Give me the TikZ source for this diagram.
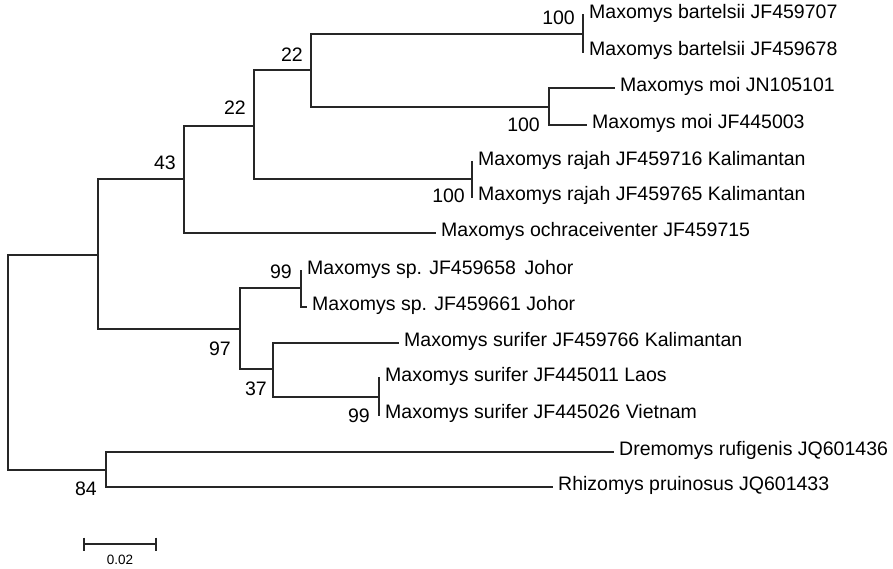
\documentclass[tikz,border=0pt]{standalone}
\usepackage{fontspec}
\setmainfont{Liberation Sans}
\begin{document}
\begin{tikzpicture}[x=1pt,y=-1pt,
  branch/.style={draw=black!85, line width=2.2pt, line cap=rect},
  leaf/.style={anchor=west, inner xsep=6pt, inner ysep=0pt, text height=0.72em, text depth=0pt, font=\fontsize{19.5}{22}\selectfont},
  boot/.style={anchor=base east, inner sep=0pt, font=\fontsize{19.5}{22}\selectfont},
  scalelbl/.style={inner sep=0pt, font=\fontsize{13.5}{15}\selectfont}]
\useasboundingbox (0,0) rectangle (893,569);
% internal nodes
\coordinate (root) at (8,362.5);
\coordinate (nIn)  at (98,255);
\coordinate (n43)  at (184,179);
\coordinate (n22a) at (254,125.7);
\coordinate (n22b) at (311,70.3);
\coordinate (nBart) at (583,33.7);
\coordinate (nMoi) at (549,106.7);
\coordinate (nRaj) at (472,179);
\coordinate (n97)  at (240,329);
\coordinate (nSp)  at (301,288);
\coordinate (n37)  at (273,369);
\coordinate (nLV)  at (379,397);
\coordinate (n84)  at (106,470);
% leaves
\node[leaf] (b1) at (583,15)  {Maxomys bartelsii JF459707};
\node[leaf] (b2) at (583,52)  {Maxomys bartelsii JF459678};
\node[leaf] (m1) at (614,88)  {Maxomys moi JN105101};
\node[leaf] (m2) at (586,125) {Maxomys moi JF445003};
\node[leaf] (r1) at (472,162) {Maxomys rajah JF459716 Kalimantan};
\node[leaf] (r2) at (472,197) {Maxomys rajah JF459765 Kalimantan};
\node[leaf] (oc) at (435,233) {Maxomys ochraceiventer JF459715};
\node[leaf] (s1) at (301,271) {Maxomys sp. JF459658 \,Johor};
\node[leaf] (s2) at (306,307) {Maxomys sp. JF459661 Johor};
\node[leaf] (u1) at (398,343) {Maxomys surifer JF459766 Kalimantan};
\node[leaf] (u2) at (379,378) {Maxomys surifer JF445011 Laos};
\node[leaf] (u3) at (379,415) {Maxomys surifer JF445026 Vietnam};
\node[leaf] (dr) at (613,452) {Dremomys rufigenis JQ601436};
\node[leaf] (rh) at (552,487) {Rhizomys pruinosus JQ601433};
% branches
\draw[branch] (root) |- (nIn);
\draw[branch] (root) |- (n84);
\draw[branch] (nIn) |- (n43);
\draw[branch] (nIn) |- (n97);
\draw[branch] (n43) |- (n22a);
\draw[branch] (n43) |- (oc.west);
\draw[branch] (n22a) |- (n22b);
\draw[branch] (n22a) |- (nRaj);
\draw[branch] (n22b) |- (nBart);
\draw[branch] (n22b) |- (nMoi);
\draw[branch] (nBart) |- (b1.west);
\draw[branch] (nBart) |- (b2.west);
\draw[branch] (nMoi) |- (m1.west);
\draw[branch] (nMoi) |- (m2.west);
\draw[branch] (nRaj) |- (r1.west);
\draw[branch] (nRaj) |- (r2.west);
\draw[branch] (n97) |- (nSp);
\draw[branch] (n97) |- (n37);
\draw[branch] (nSp) |- (s1.west);
\draw[branch] (nSp) |- (s2.west);
\draw[branch] (n37) |- (u1.west);
\draw[branch] (n37) |- (nLV);
\draw[branch] (nLV) |- (u2.west);
\draw[branch] (nLV) |- (u3.west);
\draw[branch] (n84) |- (dr.west);
\draw[branch] (n84) |- (rh.west);
% bootstrap values
\node[boot] (bs43)  at (176,170) {43};
\node[boot] (bs22a) at (246,115) {22};
\node[boot] (bs22b) at (303,62)  {22};
\node[boot] (bsB)   at (575,25)  {100};
\node[boot] (bsM)   at (540,132) {100};
\node[boot] (bsR)   at (465,203) {100};
\node[boot] (bsS)   at (292,278) {99};
\node[boot] (bs97)  at (231,355) {97};
\node[boot] (bs37)  at (267,395) {37};
\node[boot] (bsLV)  at (370,422) {99};
\node[boot] (bs84)  at (97,495)  {84};
% scale bar
\coordinate (sbl) at (84,544);
\coordinate (sbr) at (156,544);
\draw[branch, line cap=butt] (sbl) -- (sbr);
\draw[branch, line cap=butt] ([yshift=6.5pt]sbl) -- ([yshift=-6.5pt]sbl);
\draw[branch, line cap=butt] ([yshift=6.5pt]sbr) -- ([yshift=-6.5pt]sbr);
\node[scalelbl] (sbt) at (120,560) {0.02};
\end{tikzpicture}
\end{document}
